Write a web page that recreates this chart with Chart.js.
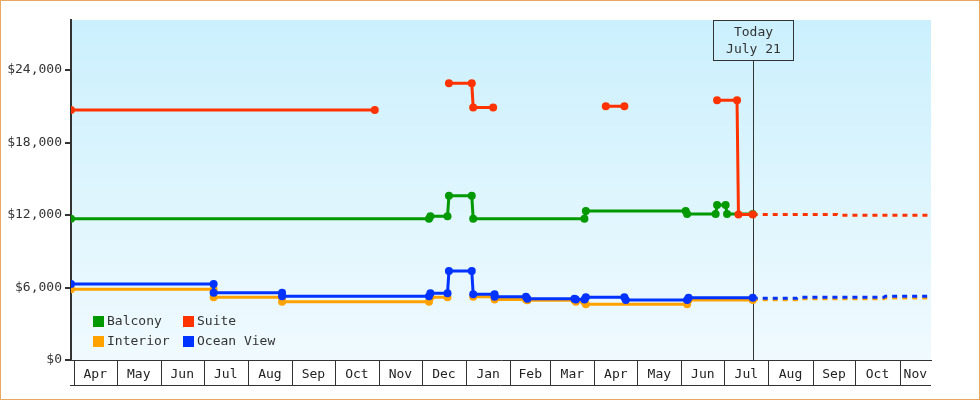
<!DOCTYPE html>
<html>
<head>
<meta charset="utf-8">
<title>Cabin price history</title>
<script src="https://cdn.jsdelivr.net/npm/chart.js@4.4.0/dist/chart.umd.min.js"></script>
<style>
  html, body { margin: 0; padding: 0; background: #fff; }
  #chart { display: block; }
</style>
</head>
<body>
<canvas id="chart" width="980" height="400"></canvas>
<script>
// Price history per cabin type, a date list and a price list each (null = no fare listed)
const balconyDates = ["2022-03-30", "2022-12-06", "2022-12-07", "2022-12-19", "2022-12-20", "2023-01-05", "2023-01-06",
  "2023-03-25", "2023-03-26", "2023-06-04", "2023-06-05", "2023-06-25", "2023-06-26", "2023-07-02", "2023-07-03", "2023-07-21"];
const balconyPrices = [11700, 11700, 11900, 11900, 13600, 13600, 11700,
  11700, 12330, 12330, 12080, 12080, 12830, 12830, 12080, 12080];

const suiteDates = ["2022-03-30", "2022-10-29", "2022-11-15", "2022-12-20", "2023-01-05", "2023-01-06", "2023-01-20",
  "2023-03-01", "2023-04-09", "2023-04-22", "2023-05-20", "2023-06-26", "2023-07-10", "2023-07-11", "2023-07-21"];
const suitePrices = [20700, 20700, null, 22900, 22900, 20900, 20900,
  null, 21000, 21000, null, 21500, 21500, 12050, 12050];

const interiorDates = ["2022-03-30", "2022-07-08", "2022-07-08", "2022-08-25", "2022-08-25", "2022-12-06", "2022-12-07",
  "2022-12-19", "2022-12-28", "2023-01-06", "2023-01-21", "2023-01-21", "2023-02-12", "2023-02-13", "2023-03-18",
  "2023-03-19", "2023-03-25", "2023-03-26", "2023-06-05", "2023-06-06", "2023-07-21"];
const interiorPrices = [5850, 5850, 5190, 5190, 4830, 4830, 5190,
  5190, null, 5240, 5240, 5000, 5000, 4940, 4940,
  4830, 4830, 4610, 4610, 4970, 4970];

const oceanDates = ["2022-03-30", "2022-07-08", "2022-07-08", "2022-08-25", "2022-08-25", "2022-12-06", "2022-12-07",
  "2022-12-19", "2022-12-20", "2023-01-05", "2023-01-06", "2023-01-21", "2023-01-21", "2023-02-12", "2023-02-13",
  "2023-03-18", "2023-03-19", "2023-03-25", "2023-03-26", "2023-04-22", "2023-04-23", "2023-06-05", "2023-06-06", "2023-07-21"];
const oceanPrices = [6290, 6290, 5570, 5570, 5270, 5270, 5520,
  5520, 7370, 7370, 5440, 5440, 5240, 5240, 5070,
  5070, 5000, 5000, 5190, 5190, 4970, 4970, 5160, 5160];

// Forecast after today (dashed)
const suiteForecastDates = ["2023-07-21", "2023-09-18", "2023-09-19", "2023-11-23"];
const suiteForecastPrices = [12050, 12050, 11970, 11970];
const interiorForecastDates = ["2023-07-21", "2023-08-21", "2023-08-22", "2023-10-21", "2023-10-22", "2023-11-23"];
const interiorForecastPrices = [4990, 4990, 5070, 5070, 5130, 5130];
const oceanForecastDates = ["2023-07-21", "2023-08-21", "2023-08-22", "2023-10-21", "2023-10-22", "2023-11-23"];
const oceanForecastPrices = [5110, 5110, 5190, 5190, 5270, 5270];

// Axis setup
const monthStarts = ["2022-04-01", "2022-05-01", "2022-06-01", "2022-07-01", "2022-08-01", "2022-09-01", "2022-10-01",
  "2022-11-01", "2022-12-01", "2023-01-01", "2023-02-01", "2023-03-01", "2023-04-01", "2023-05-01", "2023-06-01",
  "2023-07-01", "2023-08-01", "2023-09-01", "2023-10-01", "2023-11-01"];
const monthLabels = ["Apr", "May", "Jun", "Jul", "Aug", "Sep", "Oct", "Nov", "Dec", "Jan", "Feb", "Mar",
  "Apr", "May", "Jun", "Jul", "Aug", "Sep", "Oct", "Nov"];
const priceTicks = [0, 6000, 12000, 18000, 24000];
const priceMax = 28140;
const axisStart = "2022-03-30";
const axisEnd = "2023-11-23";
const today = "2023-07-21";
const todayText = ["Today", "July 21"];

const FONT = "DejaVu Sans Mono";
const INK = "#333";

const pairs = (dates, prices) => dates.map((d, i) => ({ x: Date.parse(d), y: prices[i] }));

const solid = (label, dates, prices, color, order) => ({
  label: label,
  data: pairs(dates, prices),
  borderColor: color,
  backgroundColor: color,
  pointBackgroundColor: color,
  borderWidth: 3,
  pointRadius: 4,
  pointHoverRadius: 4,
  pointBorderWidth: 0,
  tension: 0,
  order: order
});

const dashed = (dates, prices, color, order) => ({
  label: "",
  forecast: true,
  data: pairs(dates, prices),
  borderColor: color,
  borderWidth: 3,
  borderDash: [5, 5],
  pointRadius: 0,
  tension: 0,
  order: order
});

// Light blue gradient behind the plot + orange frame round the picture
const backdrop = {
  id: "backdrop",
  beforeDraw(chart) {
    const { ctx, chartArea: a, width, height } = chart;
    ctx.save();
    ctx.fillStyle = "#fff";
    ctx.fillRect(0, 0, width, height);
    const g = ctx.createLinearGradient(0, a.top, 0, a.bottom);
    g.addColorStop(0, "#cbf0fd");
    g.addColorStop(1, "#f0fafe");
    ctx.fillStyle = g;
    ctx.fillRect(a.left, a.top, a.right - a.left, a.bottom - a.top);
    ctx.strokeStyle = "#e8a862";
    ctx.lineWidth = 1;
    ctx.strokeRect(0.5, 0.5, width - 1, height - 1);
    ctx.restore();
  }
};

// "Today" marker line with its label box
const todayMarker = {
  id: "todayMarker",
  beforeDatasetsDraw(chart) {
    const { ctx, chartArea: a } = chart;
    const x = Math.round(chart.scales.x.getPixelForValue(Date.parse(today))) + 0.5;
    ctx.save();
    ctx.strokeStyle = INK;
    ctx.lineWidth = 1;
    ctx.beginPath();
    ctx.moveTo(x, a.top + 41);
    ctx.lineTo(x, a.bottom);
    ctx.stroke();
    ctx.strokeRect(x - 40, a.top + 0.5, 80, 40);
    ctx.fillStyle = INK;
    ctx.font = "13px '" + FONT + "'";
    ctx.textAlign = "center";
    ctx.textBaseline = "middle";
    ctx.fillText(todayText[0], x, a.top + 12.5);
    ctx.fillText(todayText[1], x, a.top + 29.5);
    ctx.restore();
  }
};

// Month boxes under the plot
const monthBoxes = {
  id: "monthBoxes",
  afterDraw(chart) {
    const { ctx, chartArea: a } = chart;
    const xs = chart.scales.x;
    const bottom = a.bottom + 25;
    ctx.save();
    ctx.strokeStyle = INK;
    ctx.lineWidth = 1;
    ctx.beginPath();
    monthStarts.forEach(d => {
      const x = Math.round(xs.getPixelForValue(Date.parse(d))) + 0.5;
      if (x > a.left && x < a.right) {
        ctx.moveTo(x, a.bottom);
        ctx.lineTo(x, bottom);
      }
    });
    ctx.moveTo(a.left - 1, bottom + 0.5);
    ctx.lineTo(a.right, bottom + 0.5);
    ctx.stroke();
    ctx.restore();
  }
};

// Two-column legend in the lower left of the plot
const cornerLegend = {
  id: "cornerLegend",
  afterDatasetsDraw(chart) {
    const { ctx, chartArea: a } = chart;
    const items = chart.data.datasets.filter(ds => !ds.forecast);
    ctx.save();
    ctx.font = "13px '" + FONT + "'";
    ctx.textBaseline = "middle";
    ctx.textAlign = "left";
    items.forEach((ds, i) => {
      const x = a.left + 22 + (i % 2) * 90;
      const y = a.bottom - 44 + Math.floor(i / 2) * 20;
      ctx.fillStyle = ds.borderColor;
      ctx.fillRect(x, y, 11, 11);
      ctx.fillStyle = INK;
      ctx.fillText(ds.label, x + 14, y + 6);
    });
    ctx.restore();
  }
};

const xMin = Date.parse(axisStart);
const xMax = Date.parse(axisEnd);

new Chart(document.getElementById("chart").getContext("2d"), {
  type: "line",
  data: {
    datasets: [
      solid("Balcony", balconyDates, balconyPrices, "#009900", 3),
      solid("Suite", suiteDates, suitePrices, "#ff3300", 2),
      solid("Interior", interiorDates, interiorPrices, "#ffa200", 1),
      solid("Ocean View", oceanDates, oceanPrices, "#0033ff", 0),
      dashed(suiteForecastDates, suiteForecastPrices, "#ff3300", 4),
      dashed(interiorForecastDates, interiorForecastPrices, "#ffa200", 6),
      dashed(oceanForecastDates, oceanForecastPrices, "#0033ff", 5)
    ]
  },
  options: {
    responsive: false,
    devicePixelRatio: 1,
    animation: false,
    events: [],
    layout: { padding: { top: 20, right: 49, left: 0, bottom: 0 } },
    plugins: {
      legend: { display: false },
      tooltip: { enabled: false }
    },
    scales: {
      x: {
        type: "linear",
        min: xMin,
        max: xMax,
        afterBuildTicks: scale => {
          scale.ticks = monthStarts.map((d, i) => {
            const start = Date.parse(d);
            const end = i + 1 < monthStarts.length ? Date.parse(monthStarts[i + 1]) : xMax;
            return { value: (start + Math.min(end, xMax)) / 2 };
          });
        },
        afterFit: scale => { scale.height = 40; },
        grid: { display: false },
        border: { display: true, color: INK, width: 1 },
        ticks: {
          autoSkip: false,
          maxRotation: 0,
          padding: -1,
          color: "#222",
          font: { family: FONT, size: 13 },
          callback: (v, i) => monthLabels[i]
        }
      },
      y: {
        min: 0,
        max: priceMax,
        afterBuildTicks: scale => {
          scale.ticks = priceTicks.map(v => ({ value: v }));
        },
        afterFit: scale => { scale.width = 71; },
        grid: { drawOnChartArea: false, tickLength: 6, lineWidth: 2, color: INK },
        border: { display: true, color: INK, width: 2 },
        ticks: {
          padding: 3,
          color: INK,
          font: { family: FONT, size: 13 },
          callback: v => "$" + v.toLocaleString("en-US")
        }
      }
    }
  },
  plugins: [backdrop, todayMarker, monthBoxes, cornerLegend]
});
</script>
</body>
</html>
